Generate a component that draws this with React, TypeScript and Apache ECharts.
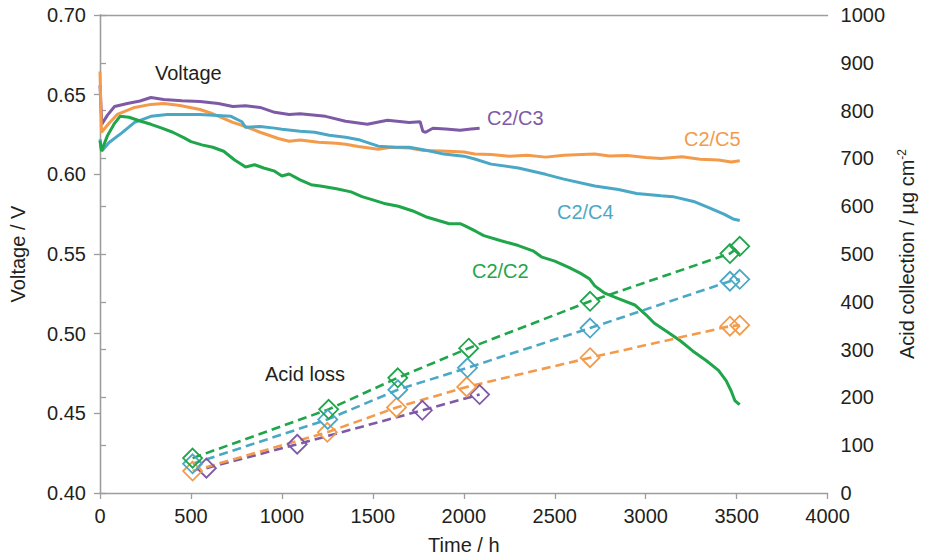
import React, { useEffect, useRef } from "react";
import * as echarts from "echarts";

// Cell voltage traces: [time / h, voltage / V]
const voltageC2C2: [number, number][] = [
  [0, 0.621], [8, 0.6146], [40, 0.624], [80, 0.632], [110, 0.6364], [160, 0.6358],
  [220, 0.6335], [280, 0.6314], [340, 0.629], [400, 0.6264], [460, 0.623], [500, 0.6205],
  [560, 0.6185], [620, 0.617], [680, 0.6145], [740, 0.609], [775, 0.6065], [800, 0.6046],
  [850, 0.606], [900, 0.604], [960, 0.602], [1000, 0.599], [1040, 0.6002], [1100, 0.5965],
  [1160, 0.5935], [1220, 0.5925], [1300, 0.591], [1380, 0.589], [1440, 0.586], [1500, 0.584],
  [1570, 0.5815], [1640, 0.58], [1720, 0.577], [1790, 0.5734], [1860, 0.571], [1920, 0.569],
  [1980, 0.569], [2010, 0.5675], [2070, 0.564], [2110, 0.5615], [2200, 0.5585], [2300, 0.5553],
  [2380, 0.552], [2430, 0.548], [2500, 0.5455], [2580, 0.5415], [2640, 0.538], [2690, 0.5345],
  [2720, 0.53], [2775, 0.5254], [2850, 0.522], [2940, 0.518], [3000, 0.512], [3046, 0.5067],
  [3120, 0.501], [3192, 0.4954], [3260, 0.489], [3334, 0.483], [3400, 0.477], [3442, 0.4705],
  [3470, 0.464], [3490, 0.458], [3505, 0.4565], [3517, 0.4555],
];

const voltageC2C3: [number, number][] = [
  [0, 0.656], [10, 0.6314], [40, 0.637], [80, 0.6426], [150, 0.6445], [220, 0.646],
  [280, 0.6482], [350, 0.647], [450, 0.6462], [550, 0.6457], [650, 0.6445], [730, 0.6426],
  [800, 0.643], [880, 0.642], [960, 0.6389], [1040, 0.6376], [1100, 0.638], [1240, 0.6364],
  [1350, 0.6333], [1470, 0.6314], [1580, 0.6339], [1700, 0.6326], [1760, 0.633], [1775, 0.627],
  [1790, 0.6264], [1830, 0.6289], [1900, 0.6285], [1980, 0.6277], [2040, 0.6285], [2087, 0.6289],
];

const voltageC2C4: [number, number][] = [
  [0, 0.622], [10, 0.6146], [50, 0.62], [120, 0.626], [190, 0.6326], [280, 0.6364],
  [370, 0.6376], [550, 0.6376], [720, 0.6364], [780, 0.633], [800, 0.6295], [880, 0.63],
  [960, 0.629], [1000, 0.6283], [1100, 0.627], [1180, 0.6264], [1260, 0.6245], [1350, 0.6233],
  [1430, 0.6215], [1530, 0.6177], [1620, 0.617], [1700, 0.617], [1800, 0.615], [1890, 0.6127],
  [2000, 0.6114], [2060, 0.6096], [2150, 0.6064], [2300, 0.604], [2450, 0.6], [2550, 0.597],
  [2720, 0.5927], [2850, 0.5905], [2950, 0.588], [3084, 0.5865], [3150, 0.586], [3263, 0.583],
  [3350, 0.579], [3430, 0.575], [3480, 0.572], [3517, 0.571],
];

const voltageC2C5: [number, number][] = [
  [0, 0.6645], [8, 0.6264], [50, 0.632], [95, 0.6376], [190, 0.642], [280, 0.6439],
  [350, 0.6445], [440, 0.6432], [550, 0.6407], [620, 0.638], [730, 0.6326], [800, 0.63],
  [880, 0.6264], [980, 0.6225], [1040, 0.6208], [1100, 0.6215], [1200, 0.6202], [1300, 0.6195],
  [1350, 0.6189], [1420, 0.6175], [1530, 0.6158], [1600, 0.617], [1700, 0.6165], [1780, 0.615],
  [1880, 0.6146], [2000, 0.614], [2060, 0.6127], [2150, 0.6125], [2250, 0.6114], [2350, 0.612],
  [2450, 0.6108], [2550, 0.612], [2650, 0.6125], [2720, 0.6127], [2800, 0.6115], [2900, 0.6118],
  [3000, 0.6105], [3084, 0.61], [3200, 0.611], [3300, 0.6095], [3400, 0.609], [3470, 0.6077],
  [3517, 0.6085],
];

// Acid collection: [time / h, µg cm-2]
const acidC2C2: [number, number][] = [
  [509, 73], [1257, 175], [1637, 241], [2027, 303], [2694, 401], [3463, 501], [3517, 516],
];
const acidC2C3: [number, number][] = [
  [585, 52], [1084, 102], [1772, 173], [2087, 206],
];
const acidC2C4: [number, number][] = [
  [509, 61], [1252, 154], [1637, 216], [2020, 262], [2694, 345], [3463, 443], [3517, 447],
];
const acidC2C5: [number, number][] = [
  [509, 46], [1250, 127], [1630, 179], [2016, 222], [2694, 283], [3463, 349], [3517, 351],
];

const timeTicks = { min: 0, max: 4000, interval: 500 };
const voltageTicks = { min: 0.4, max: 0.7, interval: 0.05 };
const acidTicks = { min: 0, max: 1000, interval: 100 };

const COLORS = {
  c2c2: "#1fa64a",
  c2c3: "#7e5aa6",
  c2c4: "#4aa8c6",
  c2c5: "#f39b4a",
};

const FONT = "'Liberation Sans', Arial, Helvetica, sans-serif";
const TEXT = "#231f20";
const AXIS = "#9d9d9d";

function voltageSeries(name: string, data: [number, number][], color: string) {
  return {
    name,
    type: "line",
    xAxisIndex: 0,
    yAxisIndex: 0,
    data,
    showSymbol: false,
    symbol: "none",
    lineStyle: { color, width: 3 },
    z: 3,
  };
}

function acidSeries(name: string, data: [number, number][], color: string) {
  return {
    name,
    type: "line",
    xAxisIndex: 0,
    yAxisIndex: 1,
    data,
    symbol: "diamond",
    symbolSize: 19,
    showSymbol: true,
    lineStyle: { color, width: 2.6, type: [9, 5] },
    itemStyle: { color: "rgba(255,255,255,0)", borderColor: color, borderWidth: 1.8 },
    z: 4,
  };
}

function label(text: string, x: number, y: number, color: string) {
  return {
    type: "text",
    x,
    y,
    style: {
      text,
      fill: color,
      font: `20px ${FONT}`,
      align: "left",
      verticalAlign: "middle",
    },
    z: 10,
  };
}

const plain = (v: number) => String(v);

export default function App() {
  const ref = useRef<HTMLDivElement>(null);

  useEffect(() => {
    document.body.style.margin = "0";
    if (!ref.current) return;
    const chart = echarts.init(ref.current, undefined, { renderer: "svg" });

    const axisCommon = {
      axisLine: { show: true, lineStyle: { color: AXIS, width: 1.3 } },
      axisTick: { show: true, inside: false, length: 6, lineStyle: { color: AXIS, width: 1.3 } },
      splitLine: { show: false },
      axisLabel: { color: TEXT, fontSize: 20, fontFamily: FONT },
      nameTextStyle: { color: TEXT, fontSize: 20, fontFamily: FONT },
    };

    chart.setOption({
      animation: false,
      backgroundColor: "#ffffff",
      grid: { left: 98, right: 89, top: 15, bottom: 64, containLabel: false },
      xAxis: [
        {
          ...axisCommon,
          type: "value",
          ...timeTicks,
          name: "Time / h",
          nameLocation: "middle",
          nameGap: 42,
          axisLabel: { ...axisCommon.axisLabel, margin: 13, formatter: plain },
        },
        {
          type: "value",
          position: "top",
          ...timeTicks,
          axisLine: { show: true, lineStyle: { color: AXIS, width: 1.3 } },
          axisTick: { show: false },
          axisLabel: { show: false },
          splitLine: { show: false },
        },
      ],
      yAxis: [
        {
          ...axisCommon,
          type: "value",
          ...voltageTicks,
          name: "Voltage / V",
          nameLocation: "middle",
          nameRotate: 90,
          nameGap: 72,
          axisLabel: {
            ...axisCommon.axisLabel,
            margin: 14,
            formatter: (v: number) => v.toFixed(2),
          },
        },
        {
          ...axisCommon,
          type: "value",
          position: "right",
          ...acidTicks,
          name: "Acid collection / µg cm{sup|-2}",
          nameLocation: "middle",
          nameRotate: 90,
          nameGap: 66,
          nameTextStyle: {
            ...axisCommon.nameTextStyle,
            rich: {
              sup: { fontSize: 12, fontFamily: FONT, color: TEXT, verticalAlign: "top", padding: [0, 0, 10, 0] },
            },
          },
          axisLabel: { ...axisCommon.axisLabel, margin: 13, formatter: plain },
        },
      ],
      series: [
        voltageSeries("C2/C3", voltageC2C3, COLORS.c2c3),
        voltageSeries("C2/C5", voltageC2C5, COLORS.c2c5),
        voltageSeries("C2/C4", voltageC2C4, COLORS.c2c4),
        voltageSeries("C2/C2", voltageC2C2, COLORS.c2c2),
        acidSeries("C2/C3 acid", acidC2C3, COLORS.c2c3),
        acidSeries("C2/C5 acid", acidC2C5, COLORS.c2c5),
        acidSeries("C2/C4 acid", acidC2C4, COLORS.c2c4),
        acidSeries("C2/C2 acid", acidC2C2, COLORS.c2c2),
      ],
      graphic: [
        label("Voltage", 155, 73, TEXT),
        label("C2/C3", 487, 118, COLORS.c2c3),
        label("C2/C5", 684, 139, COLORS.c2c5),
        label("C2/C4", 557, 212, COLORS.c2c4),
        label("C2/C2", 472, 271, COLORS.c2c2),
        label("Acid loss", 265, 374, TEXT),
      ],
    });

    return () => chart.dispose();
  }, []);

  return <div ref={ref} style={{ width: 925, height: 560 }} />;
}
